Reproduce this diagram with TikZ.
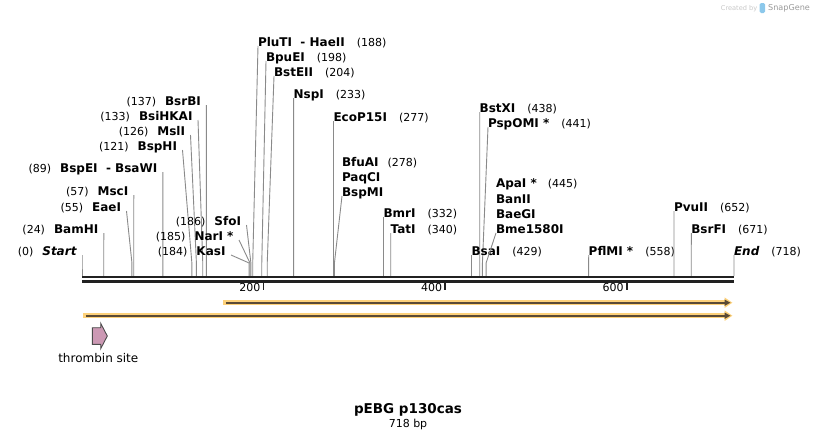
\documentclass[tikz,border=0pt]{standalone}
\usepackage{fontspec}
\setmainfont{DejaVu Sans}
\usetikzlibrary{arrows.meta}

\definecolor{featorange}{RGB}{253,209,122}
\definecolor{featdark}{RGB}{90,74,54}
\definecolor{cutgray}{RGB}{138,138,138}
\definecolor{tagpink}{RGB}{204,153,180}
\newcommand\namefont{\fontsize{12}{14}\selectfont\bfseries}
\newcommand\numfont{\fontsize{11}{13}\selectfont}

\begin{document}
\begin{tikzpicture}[x=1pt,y=-1pt,
  leftlab/.style={anchor=base east,inner xsep=5.5pt,inner ysep=0pt,outer sep=0pt},
  rightlab/.style={anchor=base west,inner sep=0pt,outer sep=0pt},
  cutline/.style={draw=cutgray,line width=0.9pt},
  backbone/.style={draw=black!87,line width=2.5pt},
  featband/.style={draw=featorange,line width=5.5pt,-{Triangle[length=8pt,width=10pt]}},
  featline/.style={draw=featdark,line width=2pt,-{Triangle[length=6pt,width=6pt]}}]

\useasboundingbox (0,0) rectangle (818,439);

% x of a site: 82 + bp*0.908
% enzymes, number left of name
\foreach \id/\site/\tx/\ty/\lbl in {
    startmark/0/82/255/{\itshape Start},
    bamhi/24/103.8/233/BamHI,
    eaei/55/126.5/211/EaeI,
    msci/57/133.8/195/MscI,
    bspei/89/162.8/172/BspEI~~-~BsaWI,
    bsphi/121/182.5/150/BspHI,
    msli/126/190.5/135/MslI,
    bsihkai/133/198/120/BsiHKAI,
    bsrbi/137/206.4/105/BsrBI,
    sfoi/186/246.5/225/SfoI,
    nari/185/239/240/NarI~*,
    kasi/184/231/255/KasI}
{
    \node[leftlab] (\id) at (\tx,\ty) {{\numfont(\site)}\hspace{9pt}{\namefont\lbl}};
    \coordinate (\id-k) at (\fpeval{82+\site*0.908},263);
    \coordinate (\id-b) at (\fpeval{82+\site*0.908},276);
    \draw[cutline] (\id.base east) -- (\id-k) -- (\id-b);
}

% enzymes, name left of number
\foreach \id/\site/\tx/\ty/\lbl in {
    pluti/188/258/46/PluTI~~-~HaeII,
    bpuei/198/266/61/BpuEI,
    bsteii/204/274/76/BstEII,
    nspi/233/293.6/98/NspI,
    ecop/277/333.5/121/EcoP15I,
    bmri/332/383.5/217/BmrI,
    tati/340/390.7/233/TatI,
    bstxi/438/479.7/112/BstXI,
    pspomi/441/488/127/PspOMI~*,
    bsai/429/471.5/255/BsaI,
    pflmi/558/588.7/255/PflMI~*,
    pvuii/652/674/211/PvuII,
    bsrfi/671/691.3/233/BsrFI,
    endmark/718/734/255/{\itshape End}}
{
    \node[rightlab] (\id) at (\tx,\ty) {{\namefont\lbl}\hspace{12pt}{\numfont(\site)}};
    \coordinate (\id-k) at (\fpeval{82+\site*0.908},263);
    \coordinate (\id-b) at (\fpeval{82+\site*0.908},276);
    \draw[cutline] (\id.base west) -- (\id-k) -- (\id-b);
}

% stacked names
\node[rightlab] (bfuai) at (342,166) {{\namefont BfuAI}\hspace{9pt}{\numfont(278)}};
\node[rightlab] (paqci) at (342,181) {\namefont PaqCI};
\node[rightlab] (bspmi) at (342,196) {\namefont BspMI};
\coordinate (bspmi-k) at (\fpeval{82+278*0.908},263);
\coordinate (bspmi-b) at (\fpeval{82+278*0.908},276);
\draw[cutline] (bspmi.base west) -- (bspmi-k) -- (bspmi-b);

\node[rightlab] (apai) at (496,187) {{\namefont ApaI~*}\hspace{11pt}{\numfont(445)}};
\node[rightlab] (banii) at (496,203) {\namefont BanII};
\node[rightlab] (baegi) at (496,218) {\namefont BaeGI};
\node[rightlab] (bme) at (496,233) {\namefont Bme1580I};
\coordinate (bme-k) at (\fpeval{82+445*0.908},263);
\coordinate (bme-b) at (\fpeval{82+445*0.908},276);
\draw[cutline] (bme.base west) -- (bme-k) -- (bme-b);

% backbone
\draw[backbone] (82,277.2) -- (734,277.2);
\draw[backbone] (82,281.5) -- (734,281.5);
\foreach \t in {200,400,600}
{
    \draw[black!87,line width=1.6pt] (\fpeval{82+\t*0.908},282) -- (\fpeval{82+\t*0.908},289.5);
    \node[anchor=base east,inner sep=0pt,font=\numfont] (tick\t) at (\fpeval{82+\t*0.908-3},291.5) {\t};
}

% features
\draw[featband] (223.3,302.7) -- (732.5,302.7);
\draw[featline] (225.8,302.7) -- (730.5,302.7);
\draw[featband] (83.3,315.7) -- (732.5,315.7);
\draw[featline] (85.8,315.7) -- (730.5,315.7);

\draw[draw=black!70,fill=tagpink,line width=0.9pt] (92.3,327.7) -- (100.7,327.7) -- (100.7,323.3) -- (107.3,336) -- (100.7,348.7) -- (100.7,344.3) -- (92.3,344.3) -- cycle;
\node[anchor=base,font=\fontsize{12}{14}\selectfont] (thrombin) at (98.3,362) {thrombin site};

% title
\node[anchor=base,font=\fontsize{13.5}{16}\selectfont\bfseries] (title) at (408,413) {pEBG p130cas};
\node[anchor=base,font=\numfont] (size) at (408,427) {718 bp};

% watermark
\node[anchor=base west,inner sep=0pt,text=black!22,font=\fontsize{6.6}{8}\selectfont] (credit) at (720.7,10) {Created by};
\fill[rounded corners=1.5pt,color={rgb,255:red,140;green,200;blue,235}] (759.5,3) rectangle (765,13);
\node[anchor=base west,inner sep=0pt,text=black!40,font=\fontsize{8.1}{10}\selectfont] (brand) at (768,10.5) {SnapGene};

\end{tikzpicture}
\end{document}
